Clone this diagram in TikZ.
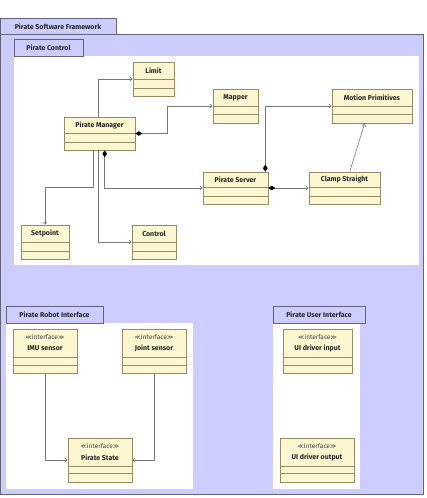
\documentclass[tikz,border=0pt]{standalone}
\usepackage{fontspec}
\setmainfont{Fira Sans}
\newfontfamily\symf{DejaVu Sans}
\usetikzlibrary{arrows.meta,calc,fit}
\definecolor{lav}{RGB}{204,204,255}
\definecolor{cream}{RGB}{252,247,208}
\definecolor{clsline}{RGB}{150,140,100}
\definecolor{pkgline}{RGB}{100,100,120}
\definecolor{conn}{RGB}{120,120,120}
\tikzset{
  pkgbody/.style={fill=lav,draw=pkgline,line width=0.6pt},
  pkgtab/.style={fill=lav,draw=pkgline,line width=0.6pt},
  pkgin/.style={fill=white,draw=none},
  tabtext/.style={font=\fontsize{7}{8}\selectfont\bfseries,text=black!85,inner sep=0pt},
  clsbox/.style={fill=cream,draw=clsline,line width=0.6pt,inner sep=0pt,rectangle},
  clssep/.style={draw=clsline,line width=0.6pt},
  clsname/.style={font=\fontsize{7}{8}\selectfont\bfseries,text=black!85,inner sep=0pt},
  stereo/.style={font=\fontsize{6.5}{7}\selectfont,text=black!75,inner sep=0pt},
  assoc/.style={draw=conn,line width=0.6pt,-{Straight Barb[length=2.5pt,width=4pt]}},
  comp/.style={draw=conn,line width=0.6pt,{Diamond[length=7pt,width=4.5pt,fill=black,color=black]}-{Straight Barb[length=2.5pt,width=4pt]}}
}
% #1 node name, #2 x1, #3 y1, #4 x2, #5 y2, #6 sep1, #7 sep2, #8 name
\newcommand\umlcls[8]{%
  \node[clsbox,fit={(#2,#3) (#4,#5)}] (#1) {};
  \draw[clssep] (#2,#6) -- (#4,#6);
  \draw[clssep] (#2,#7) -- (#4,#7);
  \node[clsname] (#1-t) at ({(#2+#4)/2},{(#3+#6)/2}) {#8};
}
\newcommand\umlint[8]{%
  \node[clsbox,fit={(#2,#3) (#4,#5)}] (#1) {};
  \draw[clssep] (#2,#6) -- (#4,#6);
  \draw[clssep] (#2,#7) -- (#4,#7);
  \node[stereo] (#1-s) at ({(#2+#4)/2},{#3+8}) {{\symf\fontsize{6}{7}\selectfont ≪}interface{\symf\fontsize{6}{7}\selectfont ≫}};
  \node[clsname] (#1-t) at ({(#2+#4)/2},{#3+19.5}) {#8};
}
\begin{document}
\begin{tikzpicture}[x=1pt,y=-1pt]
\useasboundingbox (0,0) rectangle (426,498);
% outer package
\draw[pkgtab] (0.5,18) rectangle (116,34);
\draw[pkgbody] (0.5,34) rectangle (423,494);
\node[tabtext] (t0) at (58,26.5) {Pirate Software Framework};
% Pirate Control
\fill[pkgin] (14,56) rectangle (418.5,265);
\draw[pkgtab] (14,39) rectangle (83,56);
\node[tabtext] (t1) at (48.5,47.5) {Pirate Control};
% Pirate Robot Interface
\fill[pkgin] (6,323) rectangle (193,488.5);
\draw[pkgtab] (6,306) rectangle (103,323);
\node[tabtext] (t2) at (54.5,314.5) {Pirate Robot Interface};
% Pirate User Interface
\fill[pkgin] (273,323) rectangle (360,488.5);
\draw[pkgtab] (273,306) rectangle (365,323);
\node[tabtext] (t3) at (319,314.5) {Pirate User Interface};
% classes
\umlcls{limit}{133}{62}{174}{96}{79}{88}{Limit}
\umlcls{pm}{64}{117}{135}{150}{133}{142}{Pirate Manager}
\umlcls{mapper}{213}{89}{258}{123}{106}{114}{Mapper}
\umlcls{mp}{332}{89}{412}{123}{106}{114}{Motion Primitives}
\umlcls{ps}{203}{172}{268}{204}{187}{196}{Pirate Server}
\umlcls{cs}{309}{172}{380}{204}{187}{196}{Clamp Straight}
\umlcls{sp}{21}{225}{69}{259}{242}{251}{Setpoint}
\umlcls{ctl}{132}{225}{176}{259}{242}{251}{Control}
\umlint{imu}{13}{329}{77}{373}{357}{365}{IMU sensor}
\umlint{js}{122}{329}{186}{373}{357}{365}{Joint sensor}
\umlint{pst}{68}{438}{132}{482}{466}{473}{Pirate State}
\umlint{uii}{283}{329}{352}{373}{357}{365}{UI driver input}
\umlint{uio}{280}{438}{354}{482}{466}{473}{UI driver output}
% connectors
\draw[assoc] ($(pm.north west)+(35,0)$) |- (limit.west);
\draw[comp] (pm.east) -- ++(32,0) |- (mapper.west);
\draw[comp] ($(pm.south west)+(41,0)$) |- (ps.west);
\draw[assoc] ($(pm.south west)+(30,0)$) -- ++(0,37) -| (sp.north);
\draw[assoc] ($(pm.south west)+(35,0)$) |- (ctl.west);
\draw[comp] ($(ps.north east)+(-3,0)$) |- (mp.west);
\draw[comp] (ps.east) -- (cs.west);
\draw[assoc] ($(cs.north west)+(41,0)$) -- ($(mp.south west)+(33,0)$);
\draw[assoc] (imu.south) |- (pst.west);
\draw[assoc] (js.south) |- (pst.east);
\end{tikzpicture}
\end{document}
